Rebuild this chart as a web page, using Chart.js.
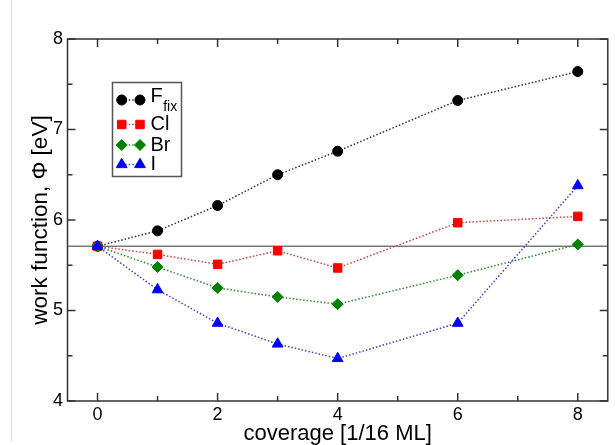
<!DOCTYPE html>
<html><head><meta charset="utf-8">
<script src="https://cdn.jsdelivr.net/npm/chart.js@4.4.0/dist/chart.umd.min.js"></script>
<style>html,body{margin:0;padding:0;background:#fff}canvas{display:block}</style>
</head><body>
<canvas id="c" width="615" height="445"></canvas>
<script>
// ---- data ----
const coverage = [0, 1, 2, 3, 4, 6, 8];
const fFix = [5.71, 5.88, 6.16, 6.50, 6.76, 7.32, 7.64];
const chlorine = [5.71, 5.62, 5.51, 5.66, 5.47, 5.97, 6.04];
const bromine = [5.71, 5.48, 5.25, 5.15, 5.07, 5.39, 5.73];
const iodine = [5.71, 5.23, 4.86, 4.63, 4.47, 4.86, 6.38];
const cleanSurfaceValue = 5.71;
const xTickValues = [0, 2, 4, 6, 8];
const xMinorTickValues = [1, 3, 5, 7];
const yTickValues = [4, 5, 6, 7, 8];
const yMinorTickValues = [4.5, 5.5, 6.5, 7.5];
const seriesLabels = ['F', 'Cl', 'Br', 'I'];
const seriesSubscripts = ['fix', '', '', ''];

const FONT = '"Liberation Sans", Arial, Helvetica, sans-serif';
const styles = [
  {color: '#000000', line: '#333333', shape: 'circle', r: 5},
  {color: '#ff0000', line: '#d04040', shape: 'rect', r: 6},
  {color: '#008000', line: '#2e8b2e', shape: 'rectRot', r: 5.5},
  {color: '#0000ff', line: '#4040d0', shape: 'triangle', r: 6.2}
];
const seriesValues = [fFix, chlorine, bromine, iodine];

const datasets = seriesValues.map((vals, i) => ({
  label: seriesLabels[i] + seriesSubscripts[i],
  data: coverage.map((c, k) => ({x: c, y: vals[k]})),
  borderColor: styles[i].line,
  backgroundColor: styles[i].color,
  pointBackgroundColor: styles[i].color,
  pointBorderColor: styles[i].color,
  pointBorderWidth: 1,
  pointStyle: styles[i].shape,
  pointRadius: styles[i].r,
  borderWidth: 1.5,
  borderDash: [1.5, 2],
  tension: 0,
  order: 3 - i
}));

function drawMarker(ctx, shape, r, x, y, color) {
  ctx.save();
  ctx.fillStyle = color; ctx.strokeStyle = color; ctx.lineWidth = 1; ctx.setLineDash([]);
  ctx.beginPath();
  if (shape === 'circle') { ctx.arc(x, y, r, 0, Math.PI * 2); }
  else if (shape === 'rect') { const s = Math.SQRT1_2 * r; ctx.rect(x - s, y - s, 2 * s, 2 * s); }
  else if (shape === 'rectRot') { ctx.moveTo(x, y - r); ctx.lineTo(x + r, y); ctx.lineTo(x, y + r); ctx.lineTo(x - r, y); ctx.closePath(); }
  else if (shape === 'triangle') {
    const a = -Math.PI / 2;
    ctx.moveTo(x + Math.cos(a) * r, y + Math.sin(a) * r);
    ctx.lineTo(x + Math.cos(a + 2 * Math.PI / 3) * r, y + Math.sin(a + 2 * Math.PI / 3) * r);
    ctx.lineTo(x + Math.cos(a + 4 * Math.PI / 3) * r, y + Math.sin(a + 4 * Math.PI / 3) * r);
    ctx.closePath();
  }
  ctx.fill(); ctx.stroke();
  ctx.restore();
}

const framePlugin = {
  id: 'frame',
  beforeDatasetsDraw(chart) {
    const {ctx, chartArea: a, scales: {y}} = chart;
    const py = y.getPixelForValue(cleanSurfaceValue);
    ctx.save();
    ctx.strokeStyle = '#7a7a7a'; ctx.lineWidth = 1.6;
    ctx.beginPath(); ctx.moveTo(a.left, py); ctx.lineTo(a.right, py); ctx.stroke();
    ctx.restore();
  },
  afterDraw(chart) {
    const {ctx, chartArea: a, scales: {x, y}} = chart;
    ctx.save();
    // faint page edge line
    ctx.strokeStyle = '#dcdcdc'; ctx.lineWidth = 1;
    ctx.beginPath(); ctx.moveTo(11.5, 0); ctx.lineTo(11.5, 441); ctx.stroke();
    // frame
    ctx.strokeStyle = '#333333'; ctx.lineWidth = 1.5;
    ctx.strokeRect(a.left, a.top, a.right - a.left, a.bottom - a.top);
    ctx.beginPath();
    const xt = (v, len) => { const p = x.getPixelForValue(v); ctx.moveTo(p, a.bottom); ctx.lineTo(p, a.bottom - len); ctx.moveTo(p, a.top); ctx.lineTo(p, a.top + len); };
    const yt = (v, len) => { const p = y.getPixelForValue(v); ctx.moveTo(a.left, p); ctx.lineTo(a.left + len, p); ctx.moveTo(a.right, p); ctx.lineTo(a.right - len, p); };
    xTickValues.forEach(v => xt(v, 8));
    xMinorTickValues.forEach(v => xt(v, 5));
    yTickValues.forEach(v => yt(v, 8));
    yMinorTickValues.forEach(v => yt(v, 5));
    ctx.stroke();
    // legend
    const bx = 112.5, by = 82.5, bw = 69, bh = 94;
    ctx.fillStyle = '#fff'; ctx.fillRect(bx, by, bw, bh);
    ctx.strokeStyle = '#555'; ctx.lineWidth = 1.5; ctx.strokeRect(bx, by, bw, bh);
    const rows = [100, 124.5, 145, 164.5];
    const m1 = 121.7, m2 = 140;
    seriesLabels.forEach((lab, i) => {
      const ry = rows[i];
      ctx.save();
      ctx.strokeStyle = styles[i].line; ctx.lineWidth = 1.5; ctx.setLineDash([1.5, 2]);
      ctx.beginPath(); ctx.moveTo(m1, ry); ctx.lineTo(m2, ry); ctx.stroke();
      ctx.restore();
      drawMarker(ctx, styles[i].shape, styles[i].r, m1, ry, styles[i].color);
      drawMarker(ctx, styles[i].shape, styles[i].r, m2, ry, styles[i].color);
      ctx.fillStyle = '#000'; ctx.textBaseline = 'middle'; ctx.textAlign = 'left';
      ctx.font = '20px ' + FONT;
      if (seriesSubscripts[i]) {
        ctx.fillText(lab, 150.5, ry - 3.5);
        const w = ctx.measureText(lab).width;
        ctx.font = '14px ' + FONT;
        ctx.fillText(seriesSubscripts[i], 150.5 + w + 0.5, ry + 7);
      } else {
        ctx.fillText(lab, 150.5, ry);
      }
    });
    ctx.restore();
  }
};

new Chart(document.getElementById('c'), {
  type: 'line',
  data: {datasets},
  options: {
    responsive: false,
    animation: false,
    devicePixelRatio: 1,
    layout: {padding: {top: 39, right: 3.5, left: 0, bottom: 0}},
    plugins: {legend: {display: false}, tooltip: {enabled: false}},
    scales: {
      x: {
        type: 'linear', min: -0.5, max: 8.5,
        afterBuildTicks: s => { s.ticks = xTickValues.map(v => ({value: v})); },
        afterFit: s => { s.height = 44; },
        grid: {display: false, drawTicks: false},
        border: {display: false},
        ticks: {font: {size: 18, family: FONT}, color: '#000', padding: 3, autoSkip: false, maxRotation: 0},
        title: {display: true, text: 'coverage [1/16 ML]', color: '#000', font: {size: 22, family: FONT, lineHeight: 1}, padding: {top: 0, bottom: 0}}
      },
      y: {
        type: 'linear', min: 4, max: 8,
        afterBuildTicks: s => { s.ticks = yTickValues.map(v => ({value: v})); },
        afterFit: s => { s.width = 67.5; },
        grid: {display: false, drawTicks: false},
        border: {display: false},
        ticks: {font: {size: 18, family: FONT}, color: '#000', padding: 4.5},
        title: {display: true, text: 'work function, Φ [eV]', color: '#000', font: {size: 22.5, family: FONT, lineHeight: 1.2}, padding: {top: 27, bottom: 0}}
      }
    }
  },
  plugins: [framePlugin]
});
</script>
</body></html>
